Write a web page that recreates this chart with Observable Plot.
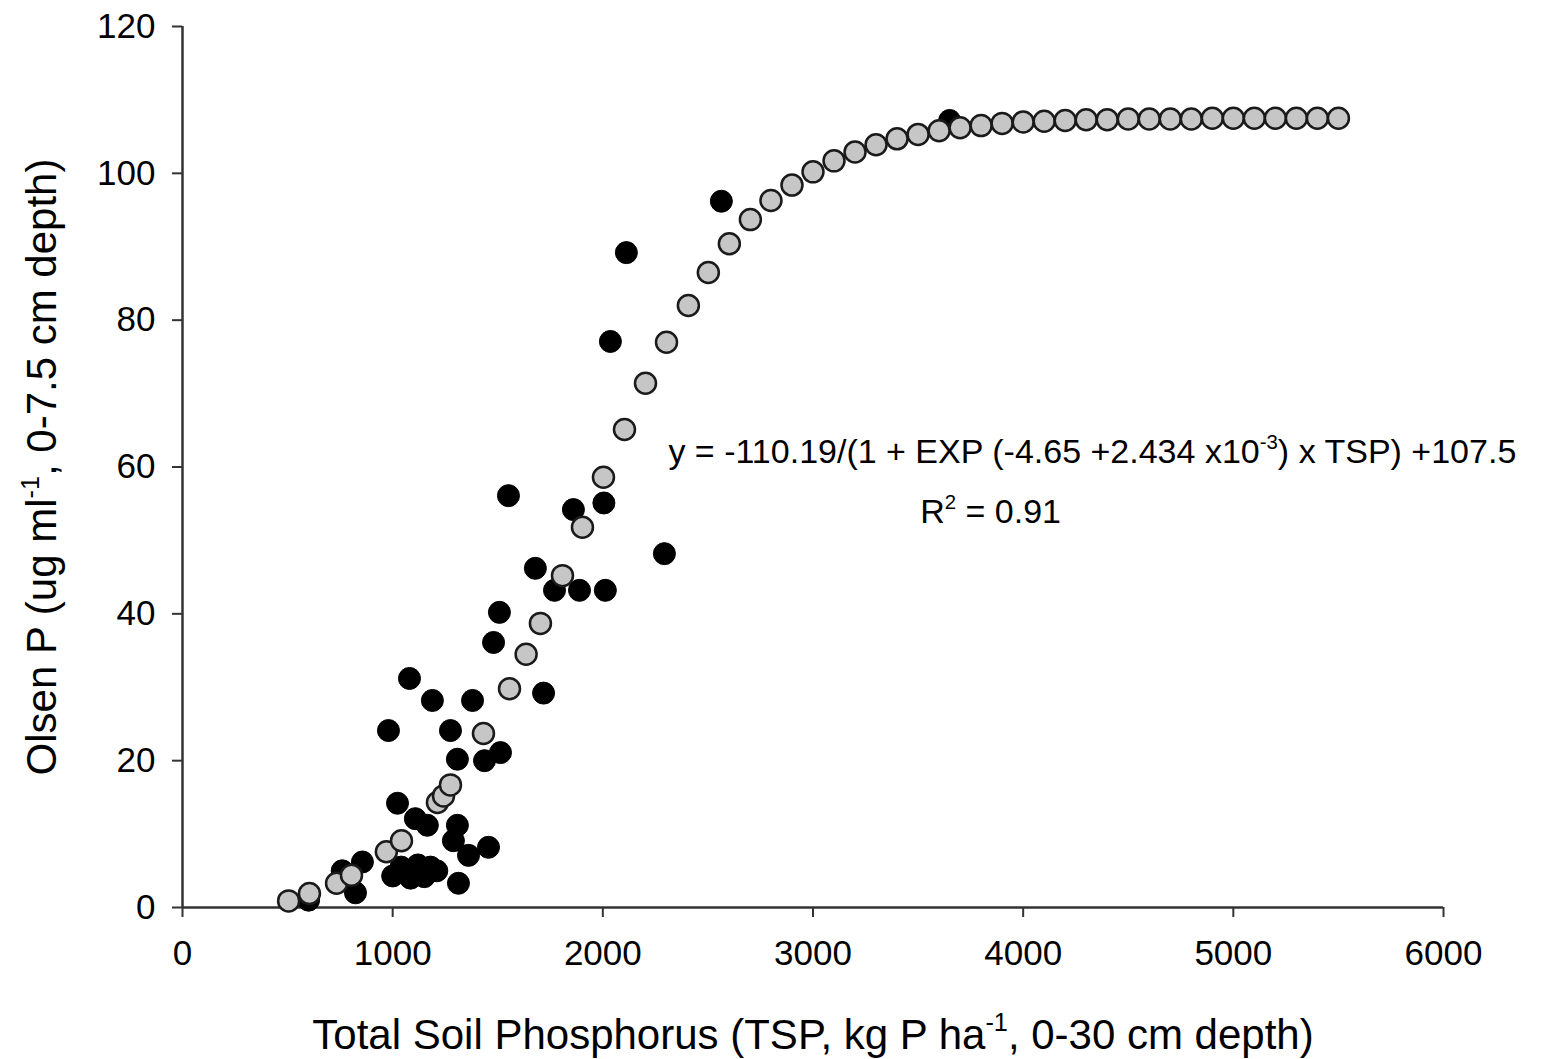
<!DOCTYPE html>
<html><head><meta charset="utf-8">
<script src="https://cdn.jsdelivr.net/npm/d3@7"></script>
<script src="https://cdn.jsdelivr.net/npm/@observablehq/plot@0.6"></script>
<style>body{margin:0;background:#fff}</style>
</head><body><div id="chart"></div>
<script>
// Measured values (black dots)
const measuredTSP   = [600, 760, 823, 856, 980, 1000, 1023, 1040, 1080, 1085, 1108, 1120, 1150, 1165, 1180, 1189, 1210, 1275, 1289, 1308, 1308, 1313, 1361, 1380, 1437, 1456, 1480, 1508, 1513, 1551, 1679, 1718, 1770, 1860, 1889, 2005, 2012, 2036, 2112, 2293, 2564, 3650];
const measuredOlsen = [1.0, 5.0, 2.0, 6.2, 24.1, 4.3, 14.2, 5.5, 31.2, 4.0, 12.1, 5.8, 4.2, 11.2, 5.5, 28.2, 5.0, 24.1, 9.1, 20.2, 11.2, 3.3, 7.1, 28.2, 20.0, 8.2, 36.1, 40.2, 21.1, 56.1, 46.2, 29.2, 43.2, 54.2, 43.2, 55.1, 43.2, 77.1, 89.2, 48.2, 96.2, 107.2];
// Fitted values (grey dots)
const fittedTSP   = [505, 604, 733, 804, 970, 1042, 1213, 1242, 1275, 1432, 1556, 1635, 1703, 1808, 1903, 2003, 2103, 2203, 2303, 2407, 2502, 2602, 2702, 2800, 2900, 3000, 3100, 3200, 3300, 3400, 3500, 3600, 3700, 3800, 3900, 4000, 4100, 4200, 4300, 4400, 4500, 4600, 4700, 4800, 4900, 5000, 5100, 5200, 5300, 5400, 5500];
const fittedOlsen = [0.9, 1.9, 3.3, 4.4, 7.6, 9.1, 14.3, 15.2, 16.7, 23.7, 29.8, 34.5, 38.7, 45.2, 51.8, 58.6, 65.1, 71.4, 77.0, 82.0, 86.5, 90.4, 93.7, 96.3, 98.4, 100.2, 101.7, 102.9, 103.9, 104.7, 105.3, 105.8, 106.2, 106.5, 106.8, 107.0, 107.1, 107.2, 107.3, 107.3, 107.4, 107.4, 107.4, 107.4, 107.5, 107.5, 107.5, 107.5, 107.5, 107.5, 107.5];
const xTicks = [0, 1000, 2000, 3000, 4000, 5000, 6000];
const yTicks = [0, 20, 40, 60, 80, 100, 120];
const xLabelParts = [["Total Soil Phosphorus (TSP, kg P ha", false], ["-1", true], [", 0-30 cm depth)", false]];
const yLabelParts = [["Olsen P (ug ml", false], ["-1", true], [", 0-7.5 cm depth)", false]];
const noteX = [2312, 3510];
const noteY = [62.0, 53.8];
const noteParts = [
  [["y = -110.19/(1 + EXP (-4.65 +2.434 x10", false], ["-3", true], [") x TSP) +107.5", false]],
  [["R", false], ["2", true], [" = 0.91", false]]
];

const FONT = "'Liberation Sans', Arial, Helvetica, sans-serif";
const measured = measuredTSP.map((x, i) => ({x, y: measuredOlsen[i]}));
const fitted = fittedTSP.map((x, i) => ({x, y: fittedOlsen[i]}));
const notes = noteX.map((x, i) => ({x, y: noteY[i], text: noteParts[i].map(p => p[0]).join("")}));
const joinParts = parts => parts.map(p => p[0]).join("");

const chart = Plot.plot({
  width: 1550,
  height: 1059,
  marginLeft: 182,
  marginRight: 107,
  marginTop: 26,
  marginBottom: 152,
  style: {fontFamily: FONT, background: "#fff", color: "#000"},
  x: {domain: [0, 6000]},
  y: {domain: [0, 120]},
  marks: [
    Plot.axisX({ticks: xTicks, tickFormat: d => String(d), tickSize: 10, tickPadding: 23, fontSize: 35, stroke: "#333", strokeWidth: 2,
      label: joinParts(xLabelParts), labelAnchor: "center", labelOffset: 141, labelArrow: "none"}),
    Plot.axisY({ticks: yTicks, tickFormat: d => String(d), tickSize: 10, tickPadding: 17, fontSize: 35, stroke: "#333", strokeWidth: 2,
      label: joinParts(yLabelParts), labelAnchor: "center", labelOffset: 156, labelArrow: "none"}),
    Plot.ruleX([0], {stroke: "#333", strokeWidth: 2.5}),
    Plot.ruleY([0], {stroke: "#333", strokeWidth: 2.5}),
    Plot.dot(measured, {x: "x", y: "y", r: 11, fill: "#000", stroke: "#000", strokeWidth: 1}),
    Plot.dot(fitted, {x: "x", y: "y", r: 10.5, fill: "#c6c6c6", stroke: "#1a1a1a", strokeWidth: 2.5}),
    Plot.text(notes, {x: "x", y: "y", text: "text", textAnchor: "start", lineAnchor: "middle", fontSize: 34, fill: "#000"})
  ]
});
document.getElementById("chart").appendChild(chart);

const svg = d3.select(chart);
function rebuild(sel, parts, fontPx) {
  sel.text(null);
  let shifted = false;
  parts.forEach(([s, sup]) => {
    const t = sel.append("tspan").text(s);
    if (sup) {
      t.attr("font-size", (fontPx * 0.6) + "px").attr("dy", (-fontPx * 0.42) + "px");
      shifted = true;
    } else if (shifted) {
      t.attr("dy", (fontPx * 0.42) + "px");
      shifted = false;
    }
  });
}
svg.selectAll("text").each(function() {
  const el = d3.select(this);
  const s = el.text();
  if (s === joinParts(xLabelParts)) { el.attr("font-size", "42px"); rebuild(el, xLabelParts, 42); }
  else if (s === joinParts(yLabelParts)) { el.attr("font-size", "42px"); rebuild(el, yLabelParts, 42); }
  else {
    noteParts.forEach(parts => { if (s === joinParts(parts)) rebuild(el, parts, 34); });
  }
});
</script>
</body></html>
